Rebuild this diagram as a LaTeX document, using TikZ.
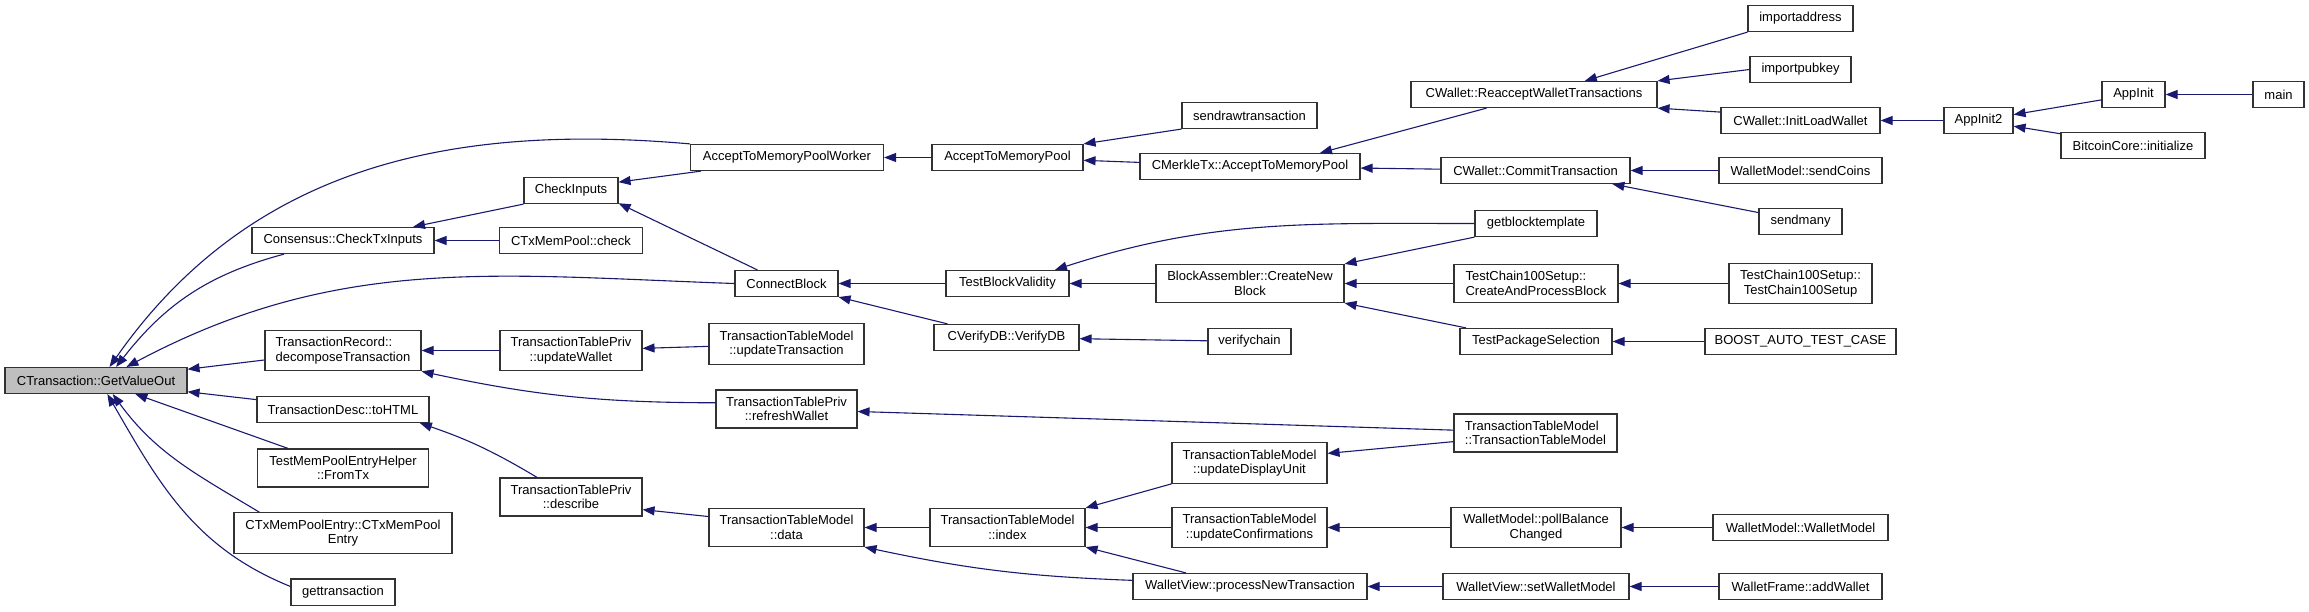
\documentclass[tikz,border=0pt]{standalone}
\usepackage{fontspec}
\setmainfont{Liberation Sans}
\usepackage{tikz}
\usetikzlibrary{positioning, arrows.meta, calc}
\definecolor{cE}{RGB}{25,25,112}
\definecolor{cB}{RGB}{50,50,50}
\definecolor{cG}{RGB}{191,191,191}

\begin{document}
\begin{tikzpicture}[x=1pt, y=-1pt,
                    fn/.style={draw=cB, line width=1.1pt, fill=white, align=center,
                               font=\fontsize{13}{14.5}\selectfont,
                               minimum width=#1, minimum height=26pt,
                               inner xsep=3pt, inner ysep=7pt},
                    call/.style={draw=cE, line width=1.1pt, -{Triangle[length=12pt,width=9pt]}}]

    \useasboundingbox (0,0) rectangle (2309,611);

    % Nodes
    \node[fn=182, fill=cG] (gvo) at (96,380.5) {CTransaction::GetValueOut};

    \node[fn=182] (ctxi) at (343,240.5) {Consensus::CheckTxInputs};
    \node[fn=156, align=left] (drec) at (343,350.5) {TransactionRecord::\\decomposeTransaction};
    \node[fn=172] (html) at (343,409.5) {TransactionDesc::toHTML};
    \node[fn=171] (fromtx) at (343,468) {TestMemPoolEntryHelper\\::FromTx};
    \node[fn=218] (mpentry) at (343,533) {CTxMemPoolEntry::CTxMemPool\\Entry};
    \node[fn=104] (gettx) at (343,592) {gettransaction};

    \node[fn=94] (chkin) at (571,190.5) {CheckInputs};
    \node[fn=143] (mpchk) at (571,240.5) {CTxMemPool::check};
    \node[fn=142] (upwal) at (571,350.5) {TransactionTablePriv\\::updateWallet};
    \node[fn=142] (descr) at (571,497) {TransactionTablePriv\\::describe};

    \node[fn=193] (atmpw) at (787,157.5) {AcceptToMemoryPoolWorker};
    \node[fn=103] (cblock) at (786.5,283.5) {ConnectBlock};
    \node[fn=155] (uptx) at (786.5,344) {TransactionTableModel\\::updateTransaction};
    \node[fn=141] (refwal) at (786.5,409) {TransactionTablePriv\\::refreshWallet};
    \node[fn=155] (tdata) at (786.5,527.5) {TransactionTableModel\\::data};

    \node[fn=151] (atmp) at (1007.5,157.5) {AcceptToMemoryPool};
    \node[fn=123] (tbv) at (1007.5,283.5) {TestBlockValidity};
    \node[fn=145] (vdb) at (1006.5,337.5) {CVerifyDB::VerifyDB};
    \node[fn=155] (tindex) at (1007.5,527.5) {TransactionTableModel\\::index};

    \node[fn=135] (sendraw) at (1249.5,115.5) {sendrawtransaction};
    \node[fn=220] (mtx) at (1250,166.5) {CMerkleTx::AcceptToMemoryPool};
    \node[fn=188] (cnb) at (1250,283.5) {BlockAssembler::CreateNew\\Block};
    \node[fn=83] (vchain) at (1249.5,341.5) {verifychain};
    \node[fn=155] (updu) at (1249.5,463) {TransactionTableModel\\::updateDisplayUnit};
    \node[fn=155] (upconf) at (1249.5,527.5) {TransactionTableModel\\::updateConfirmations};
    \node[fn=234] (pnt) at (1250,586.5) {WalletView::processNewTransaction};

    \node[fn=246] (reacc) at (1534,94.5) {CWallet::ReacceptWalletTransactions};
    \node[fn=189] (commit) at (1535.5,170.5) {CWallet::CommitTransaction};
    \node[fn=122] (gbt) at (1536,223.5) {getblocktemplate};
    \node[fn=164, align=left] (capb) at (1536,283.5) {TestChain100Setup::\\CreateAndProcessBlock};
    \node[fn=152] (tps) at (1536,341.5) {TestPackageSelection};
    \node[fn=163, align=left] (ttm) at (1535.5,433) {TransactionTableModel\\::TransactionTableModel};
    \node[fn=170] (pbc) at (1536,527.5) {WalletModel::pollBalance\\Changed};
    \node[fn=186] (swm) at (1536,586.5) {WalletView::setWalletModel};

    \node[fn=105] (impaddr) at (1800.5,18.5) {importaddress};
    \node[fn=101] (imppub) at (1800.5,69.5) {importpubkey};
    \node[fn=159] (ilw) at (1800.5,120.5) {CWallet::InitLoadWallet};
    \node[fn=163] (sendcoins) at (1800.5,170.5) {WalletModel::sendCoins};
    \node[fn=83] (sendmany) at (1800.5,221.5) {sendmany};
    \node[fn=143] (tc100) at (1800.5,283.5) {TestChain100Setup::\\TestChain100Setup};
    \node[fn=191] (boost) at (1800.5,341.5) {BOOST\_AUTO\_TEST\_CASE};
    \node[fn=175] (wmwm) at (1800.5,527.5) {WalletModel::WalletModel};
    \node[fn=163] (addw) at (1800.5,586.5) {WalletFrame::addWallet};

    \node[fn=69] (appinit2) at (1978.5,120.5) {AppInit2};
    \node[fn=63] (appinit) at (2133.5,94.5) {AppInit};
    \node[fn=144] (btcinit) at (2133,145.5) {BitcoinCore::initialize};
    \node[fn=51] (main) at (2278.5,94.5) {main};

    % Calls into GetValueOut
    \draw[call] (atmpw.north west) to[out=175,in=55] (gvo.45);
    \draw[call] (ctxi.-167) to[out=195,in=52] (gvo.34);
    \draw[call] (cblock.west) to[out=178,in=28] (gvo.24);
    \draw[call] (drec) -- (gvo.7);
    \draw[call] (html) -- (gvo.-7);
    \draw[call] (fromtx) -- (gvo.-19);
    \draw[call] (mpentry.166) to[out=149,in=-54] (gvo.-39);
    \draw[call] (gettx.174) to[out=158,in=-60] (gvo.-50);

    % Mempool and block checks
    \draw[call] (chkin.south west) -- (ctxi.11);
    \draw[call] (mpchk) -- (ctxi);
    \draw[call] (atmpw.-171) -- (chkin.10);
    \draw[call] (cblock.155) -- (chkin.-15);
    \draw[call] (atmp) -- (atmpw);
    \draw[call] (sendraw.south west) -- (atmp.north east);
    \draw[call] (mtx) -- (atmp);
    \draw[call] (reacc.-164) -- (mtx.11);
    \draw[call] (commit) -- (mtx);
    \draw[call] (impaddr.south west) -- (reacc.15);
    \draw[call] (imppub.west) -- (reacc.north east);
    \draw[call] (ilw.174) -- (reacc.south east);
    \draw[call] (appinit2) -- (ilw);
    \draw[call] (appinit) -- (appinit2);
    \draw[call] (btcinit) -- (appinit2);
    \draw[call] (main) -- (appinit);
    \draw[call] (sendcoins) -- (commit);
    \draw[call] (sendmany.168) -- (commit.-10);
    \draw[call] (tbv) -- (cblock);
    \draw[call] (vdb.167) -- (cblock.south east);
    \draw[call] (gbt.west) to[out=180,in=18] (tbv.16);
    \draw[call] (cnb) -- (tbv);
    \draw[call] (gbt.south west) -- (cnb.north east);
    \draw[call] (capb) -- (cnb);
    \draw[call] (tps.169) -- (cnb.south east);
    \draw[call] (tc100) -- (capb);
    \draw[call] (boost) -- (tps);
    \draw[call] (vchain) -- (vdb);

    % Wallet and GUI side
    \draw[call] (upwal) -- (drec);
    \draw[call] (refwal.175) to[bend left=6] (drec.south east);
    \draw[call] (uptx) -- (upwal);
    \draw[call] (ttm.178) -- (refwal.-2);
    \draw[call] (ttm.-174) -- (updu.7);
    \draw[call] (descr.150) to[bend right=6] (html.-10);
    \draw[call] (tdata.172) -- (descr.-10);
    \draw[call] (tindex) -- (tdata);
    \draw[call] (pnt.177) to[bend left=5] (tdata.south east);
    \draw[call] (updu.south west) -- (tindex.north east);
    \draw[call] (upconf) -- (tindex);
    \draw[call] (pnt.168) -- (tindex.south east);
    \draw[call] (pbc) -- (upconf);
    \draw[call] (wmwm) -- (pbc);
    \draw[call] (swm) -- (pnt);
    \draw[call] (addw) -- (swm);

\end{tikzpicture}
\end{document}
